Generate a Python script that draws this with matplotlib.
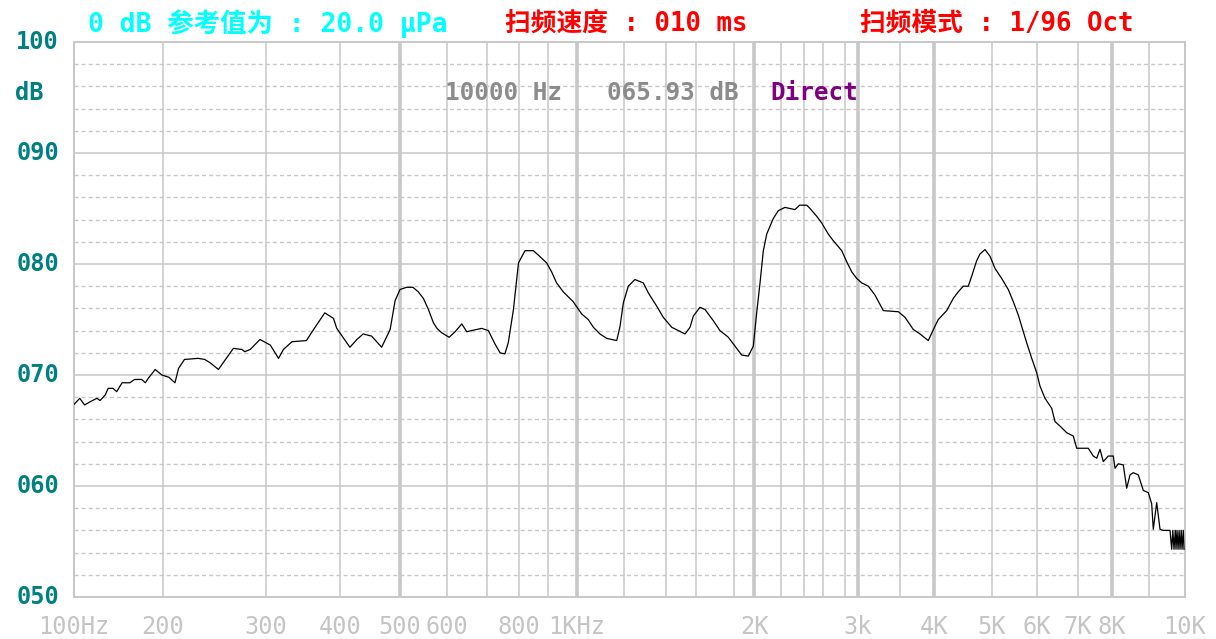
import matplotlib
matplotlib.use("Agg")
import matplotlib.pyplot as plt
import matplotlib.transforms as mtrans
import numpy as np

# grid frequencies of the analyser chart and where they sit across the plot (px)
grid_freqs = [100, 200, 300, 400, 500, 600, 700, 800, 900, 1000,
              1200, 1400, 1600, 1800, 2000, 2200, 2400, 2600, 2800, 3000,
              3500, 4000, 5000, 6000, 7000, 8000, 9000, 10000]
grid_pos = [73.5, 162.5, 266, 340, 400, 446.5, 487, 518.5, 548, 576.5,
            624, 666, 696, 733.5, 754, 781, 803.5, 822.5, 844.5, 858,
            900, 934, 992, 1037, 1078, 1112, 1149, 1185]
thick_freqs = [500, 1000, 2000, 3000, 4000, 8000]

tick_freqs = [100, 200, 300, 400, 500, 600, 800, 1000, 2000, 3000, 4000,
              5000, 6000, 7000, 8000, 10000]
tick_labels = ["100Hz", "200", "300", "400", "500", "600", "800", "1KHz",
               "2K", "3k", "4K", "5K", "6K", "7K", "8K", "10K"]

db_ticks = [100, 90, 80, 70, 60, 50]
db_labels = ["100", "090", "080", "070", "060", "050"]

# measured response (Hz, dB)
freq = [100, 105, 109, 114, 120, 123, 128, 131, 136, 140, 146, 155, 161, 170,
        175, 179, 189, 199, 205, 210, 213, 218, 230, 236, 241, 249, 256, 264,
        273, 276, 282, 293, 305, 315, 321, 332, 351, 361, 377, 390, 395, 415,
        426, 436, 450, 467, 482, 491, 500, 513, 526, 537, 548, 559, 570, 578,
        589, 606, 620, 636, 648, 660, 686, 704, 724, 740, 755, 766, 783, 800,
        821, 849, 866, 895, 912, 929, 952, 988, 1020, 1046, 1067, 1094, 1123,
        1167, 1182, 1197, 1219, 1249, 1288, 1312, 1353, 1386, 1436, 1479,
        1524, 1558, 1581, 1620, 1646, 1689, 1725, 1771, 1814, 1877, 1942,
        1993, 2019, 2043, 2067, 2092, 2141, 2179, 2234, 2322, 2364, 2433,
        2467, 2537, 2591, 2651, 2696, 2774, 2832, 2905, 2980, 3041, 3116,
        3193, 3292, 3479, 3569, 3688, 3786, 3911, 4015, 4067, 4200, 4308,
        4392, 4477, 4564, 4624, 4714, 4774, 4867, 4962, 5061, 5200, 5341,
        5451, 5562, 5639, 5755, 5873, 5993, 6068, 6183, 6341, 6420, 6542,
        6709, 6877, 6966, 7289, 7433, 7533, 7632, 7731, 7885, 8033, 8077,
        8162, 8293, 8383, 8472, 8561, 8699, 8838, 8980, 9071, 9114, 9205,
        9295, 9385, 9571, 9618, 9650, 9683, 9720, 9740, 9770, 9798, 9830,
        9855, 9890, 9913, 9950, 9971]
level = [67.3, 67.9, 67.3, 67.6, 67.9, 67.7, 68.2, 68.8, 68.8, 68.5, 69.3,
         69.3, 69.6, 69.6, 69.3, 69.7, 70.5, 70.0, 69.8, 69.3, 70.6, 71.4,
         71.5, 71.4, 71.1, 70.5, 71.4, 72.4, 72.3, 72.1, 72.3, 73.2, 72.7,
         71.5, 72.3, 73.0, 73.1, 74.1, 75.6, 75.1, 74.2, 72.5, 73.2, 73.7,
         73.5, 72.5, 74.1, 76.7, 77.7, 77.9, 77.9, 77.5, 76.9, 75.9, 74.7,
         74.2, 73.8, 73.4, 73.9, 74.6, 73.9, 74.0, 74.2, 74.0, 72.8, 72.0,
         71.9, 72.9, 75.9, 80.1, 81.2, 81.2, 80.8, 80.1, 79.3, 78.3, 77.5,
         76.6, 75.5, 75.0, 74.3, 73.7, 73.3, 73.1, 74.4, 76.5, 78.0, 78.6,
         78.3, 77.4, 76.2, 75.2, 74.3, 74.0, 73.7, 74.3, 75.3, 76.1, 75.9,
         74.9, 74.0, 73.4, 72.6, 71.8, 71.7, 72.6, 75.6, 78.3, 81.2, 82.7,
         84.1, 84.8, 85.1, 84.9, 85.3, 85.3, 85.0, 84.3, 83.7, 82.7, 82.1,
         81.2, 80.2, 79.3, 78.7, 78.3, 78.0, 77.2, 75.8, 75.7, 75.2, 74.1,
         73.7, 73.1, 74.4, 75.0, 75.8, 76.9, 77.5, 78.0, 78.0, 78.9, 80.3,
         80.9, 81.3, 80.7, 79.6, 78.7, 77.7, 76.6, 75.4, 74.4, 72.9, 71.5,
         70.2, 69.0, 67.9, 67.0, 65.8, 65.4, 64.8, 64.5, 63.4, 63.4, 62.7,
         62.5, 63.3, 62.2, 62.7, 62.7, 61.6, 62.0, 61.9, 59.8, 61.0, 61.2,
         61.0, 59.6, 59.4, 58.4, 56.1, 58.5, 56.1, 56.0, 56.0, 54.3, 56.0,
         54.3, 56.0, 54.3, 56.0, 54.3, 56.0, 54.3, 56.0, 54.3, 56.0, 54.3]

log_knots = np.log10(grid_freqs)


def fwd(f):
    f = np.clip(np.asarray(f, dtype=float), 1e-6, None)
    return np.interp(np.log10(f), log_knots, grid_pos)


def inv(p):
    return 10 ** np.interp(np.asarray(p, dtype=float), grid_pos, log_knots)


plt.rcParams['font.family'] = ['DejaVu Sans Mono', 'Noto Sans CJK SC']

W, H = 1216, 639
fig = plt.figure(figsize=(W / 100, H / 100), dpi=100)
ax = fig.add_axes([73.5 / W, 1 - 597 / H, (1185 - 73.5) / W, 555 / H])
ax.set_xscale("function", functions=(fwd, inv))
ax.set_xlim(100, 10000)
ax.set_ylim(50, 100)

grid_col = "#c8c8c8"
for f in grid_freqs:
    ax.axvline(f, color=grid_col, lw=2.6 if f in thick_freqs else 1.1, zorder=1)
for d in range(52, 100, 2):
    if d % 10 == 0:
        ax.axhline(d, color=grid_col, lw=1.1, zorder=1)
    else:
        ax.axhline(d, color=grid_col, lw=1.0, dashes=(2.9, 2.2), zorder=1)
for s in ax.spines.values():
    s.set_color(grid_col)
    s.set_linewidth(1.4)
ax.set_xticks([])
ax.set_yticks([])
ax.minorticks_off()

ax.plot(freq, level, color="black", lw=0.9, zorder=3)

# axis labels
bt = mtrans.blended_transform_factory(ax.transData, fig.transFigure)
for f, lab in zip(tick_freqs, tick_labels):
    ax.text(f, 1 - 627 / H, lab, transform=bt, ha="center", va="center",
            fontsize=17, color="#c4c4c4", clip_on=False)

ty = mtrans.blended_transform_factory(fig.transFigure, ax.transData)
for d, lab in zip(db_ticks, db_labels):
    ax.text(59 / W, d, lab, transform=ty, ha="right", va="center",
            fontsize=17, color="#008080", fontweight="bold", clip_on=False)
fig.text(15 / W, 1 - 93 / H, "dB", ha="left", va="center", fontsize=17,
         color="#008080", fontweight="bold")

# header
fig.text(88 / W, 1 - 24 / H, "0 dB 参考值为 : 20.0 μPa", ha="left", va="center",
         fontsize=19, color="#00ffff", fontweight="bold")
fig.text(505 / W, 1 - 24 / H, "扫频速度 : 010 ms", ha="left", va="center",
         fontsize=18.5, color="#ff0000", fontweight="bold")
fig.text(860 / W, 1 - 24 / H, "扫频模式 : 1/96 Oct", ha="left", va="center",
         fontsize=18.5, color="#ff0000", fontweight="bold")

fig.text(445 / W, 1 - 93 / H, "10000 Hz", ha="left", va="center",
         fontsize=17.5, color="#8c8c8c", fontweight="bold")
fig.text(607 / W, 1 - 93 / H, "065.93 dB", ha="left", va="center",
         fontsize=17.5, color="#8c8c8c", fontweight="bold")
fig.text(770 / W, 1 - 93 / H, "Direct", ha="left", va="center",
         fontsize=17.5, color="#800080", fontweight="bold")

fig.savefig("out.png", dpi=100, facecolor="white")
